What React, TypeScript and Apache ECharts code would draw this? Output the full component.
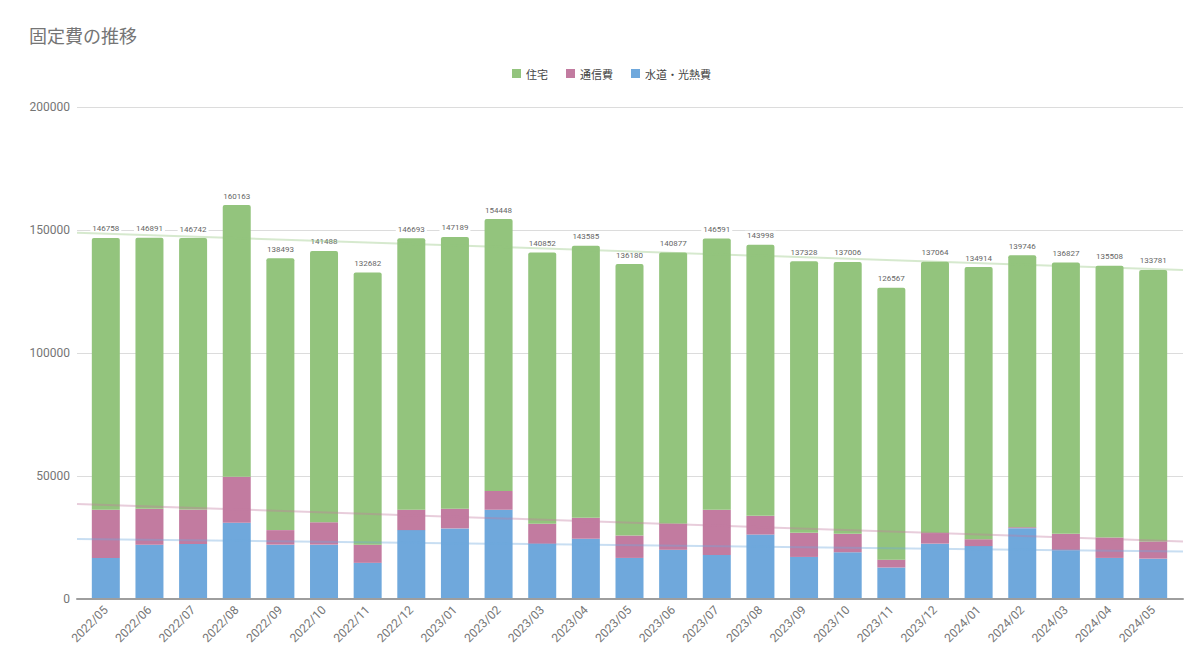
import React, { useRef, useEffect } from 'react'
import * as echarts from 'echarts'

const months = [
  '2022/05', '2022/06', '2022/07', '2022/08', '2022/09', '2022/10', '2022/11', '2022/12',
  '2023/01', '2023/02', '2023/03', '2023/04', '2023/05', '2023/06', '2023/07', '2023/08',
  '2023/09', '2023/10', '2023/11', '2023/12', '2024/01', '2024/02', '2024/03', '2024/04',
  '2024/05',
]

// 合計（ラベル表示用）
const totals = [
  146758, 146891, 146742, 160163, 138493, 141488, 132682, 146693,
  147189, 154448, 140852, 143585, 136180, 140877, 146591, 143998,
  137328, 137006, 126567, 137064, 134914, 139746, 136827, 135508,
  133781,
]

// 水道・光熱費
const utilities = [
  16700, 22100, 22400, 31000, 22100, 22100, 14700, 28000,
  28700, 36300, 22400, 24500, 16700, 20000, 17900, 26200,
  17100, 19000, 12800, 22500, 21500, 28800, 19800, 16700,
  16400,
]

// 通信費
const telecom = [
  19600, 14600, 14000, 18700, 5900, 9100, 7400, 8300,
  8000, 7600, 8200, 8500, 9100, 10600, 18400, 7600,
  9800, 7500, 3200, 4300, 2800, 400, 6700, 8300,
  7000,
]

// 住宅
const housing = [
  110458, 110191, 110342, 110463, 110493, 110288, 110582, 110393,
  110489, 110548, 110252, 110585, 110380, 110277, 110291, 110198,
  110428, 110506, 110567, 110264, 110614, 110546, 110327, 110508,
  110381,
]

// トレンドライン（左端・右端の値）
const trendTotal = [148900, 133700]
const trendTelecom = [38600, 23400]
const trendUtilities = [24400, 19300]

const GREEN = '#93c47d'
const PINK = '#c27ba0'
const BLUE = '#6fa8dc'

const trendSeries = (name: string, ends: number[], color: string) => ({
  name,
  type: 'line',
  xAxisIndex: 0,
  yAxisIndex: 0,
  data: [[0, ends[0]], [1, ends[1]]],
  symbol: 'none',
  silent: true,
  z: 3,
  lineStyle: { color, width: 2, opacity: 0.38 },
})

const bar = (name: string, data: number[], color: string) => ({
  name,
  type: 'bar',
  stack: 'cost',
  xAxisIndex: 1,
  yAxisIndex: 1,
  barWidth: 28,
  data,
  itemStyle: { color },
})

const App: React.FC = () => {
  const chartRef = useRef<HTMLDivElement>(null)

  useEffect(() => {
    if (!chartRef.current) return
    const chart = echarts.init(chartRef.current, undefined, { renderer: 'svg' })

    chart.setOption({
      animation: false,
      backgroundColor: '#fff',
      textStyle: { fontFamily: 'Roboto, "Noto Sans CJK JP", sans-serif' },
      title: {
        text: '固定費の推移',
        left: 24,
        top: 21,
        textStyle: {
          color: '#757575',
          fontSize: 18,
          fontWeight: 'normal',
          fontFamily: '"Noto Sans CJK JP", sans-serif',
        },
      },
      legend: {
        data: ['住宅', '通信費', '水道・光熱費'],
        top: 63,
        left: 507,
        icon: 'rect',
        itemWidth: 9,
        itemHeight: 9,
        itemGap: 18,
        textStyle: {
          color: '#444',
          fontSize: 11,
          fontFamily: '"Noto Sans CJK JP", sans-serif',
        },
      },
      // grid 0: 目盛線・軸線・トレンドライン / grid 1: 棒グラフ
      grid: [
        { left: 77, right: 17, top: 107, bottom: 58 },
        { left: 84, right: 25, top: 107, bottom: 58 },
      ],
      xAxis: [
        {
          type: 'value',
          gridIndex: 0,
          min: 0,
          max: 1,
          z: 5,
          axisLine: { show: true, lineStyle: { color: '#9e9e9e', width: 2 } },
          axisTick: { show: false },
          axisLabel: { show: false },
          splitLine: { show: false },
        },
        {
          type: 'category',
          gridIndex: 1,
          data: months,
          axisTick: { show: false },
          axisLine: { show: false },
          axisLabel: { color: '#757575', fontSize: 12, rotate: 45, margin: 9 },
        },
      ],
      yAxis: [
        {
          type: 'value',
          gridIndex: 0,
          min: 0,
          max: 200000,
          interval: 50000,
          axisLine: { show: false },
          axisTick: { show: false },
          axisLabel: { color: '#757575', fontSize: 12, margin: 7, formatter: (v: number) => String(v) },
          splitLine: { lineStyle: { color: '#dcdcdc' } },
        },
        {
          type: 'value',
          gridIndex: 1,
          min: 0,
          max: 200000,
          interval: 50000,
          show: false,
          splitLine: { show: false },
        },
      ],
      series: [
        bar('水道・光熱費', utilities, BLUE),
        bar('通信費', telecom, PINK),
        {
          ...bar('住宅', housing, GREEN),
          itemStyle: { color: GREEN, borderRadius: [2, 2, 0, 0] },
          label: {
            show: true,
            position: 'top',
            distance: 4,
            fontSize: 8,
            color: '#666',
            backgroundColor: '#fff',
            padding: [1, 2],
            formatter: (p: any) => String(totals[p.dataIndex]),
          },
        },
        trendSeries('trend-total', trendTotal, GREEN),
        trendSeries('trend-telecom', trendTelecom, PINK),
        trendSeries('trend-utilities', trendUtilities, BLUE),
      ],
    })

    return () => {
      chart.dispose()
    }
  }, [])

  return (
    <div
      ref={chartRef}
      style={{ position: 'fixed', left: 0, top: 0, width: '1200px', height: '657px' }}
    />
  )
}

export default App
